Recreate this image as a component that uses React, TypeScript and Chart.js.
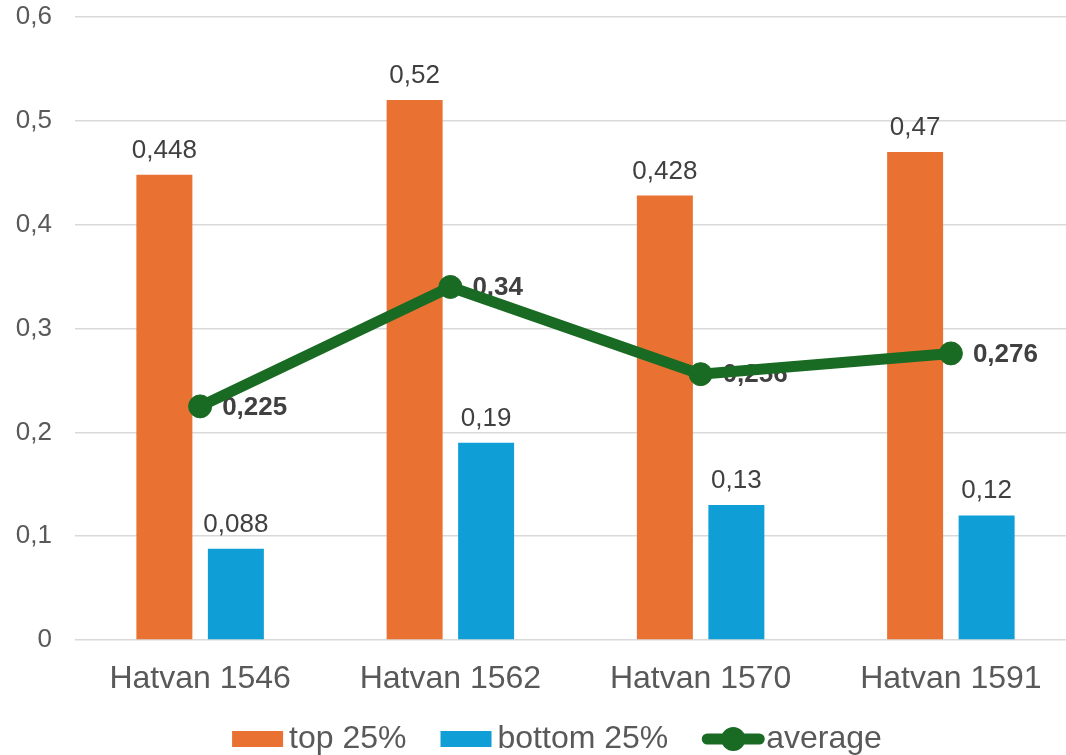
import React, { useEffect, useRef } from "react";
import { Chart, registerables } from "chart.js";

Chart.register(...registerables);

const categories = ["Hatvan 1546", "Hatvan 1562", "Hatvan 1570", "Hatvan 1591"];
const topValues = [0.448, 0.52, 0.428, 0.47];
const bottomValues = [0.088, 0.19, 0.13, 0.12];
const averageValues = [0.225, 0.34, 0.256, 0.276];
const yTickLabels = ["0", "0,1", "0,2", "0,3", "0,4", "0,5", "0,6"];
const seriesNames = ["top 25%", "bottom 25%", "average"];

const ORANGE = "#E97132";
const BLUE = "#0F9ED5";
const GREEN = "#196B24";
const FONT = "'Liberation Sans', Arial, sans-serif";

const fmt = (v: number) => String(v).replace(".", ",");

const labelPlugin = {
  id: "valueLabels",
  beforeDatasetsDraw(chart: any) {
    const ctx = chart.ctx;
    ctx.save();
    chart.data.datasets.forEach((ds: any, di: number) => {
      const meta = chart.getDatasetMeta(di);
      meta.data.forEach((el: any, i: number) => {
        const v = ds.data[i];
        if (ds.type === "line") {
          ctx.font = `bold 26px ${FONT}`;
          ctx.fillStyle = "#404040";
          ctx.textAlign = "left";
          ctx.textBaseline = "middle";
          ctx.fillText(fmt(v), el.x + 22, el.y + 1);
        } else {
          ctx.font = `26px ${FONT}`;
          ctx.fillStyle = "#404040";
          ctx.textAlign = "center";
          ctx.textBaseline = "alphabetic";
          ctx.fillText(fmt(v), el.x, el.y - 17);
        }
      });
    });
    ctx.restore();
  },
};

const legendPlugin = {
  id: "customLegend",
  afterDraw(chart: any) {
    const ctx = chart.ctx;
    ctx.save();
    ctx.font = `32px ${FONT}`;
    const colors = [ORANGE, BLUE, GREEN];
    const markerW = [51, 51, 62];
    const textGap = [6, 6, 2];
    const itemGap = 34;
    const widths = seriesNames.map((n, i) => markerW[i] + textGap[i] + ctx.measureText(n).width);
    const total = widths.reduce((a, b) => a + b, 0) + itemGap * (seriesNames.length - 1);
    let x = chart.width / 2 - total / 2 + 2;
    const cy = 739;
    seriesNames.forEach((name, i) => {
      if (i < 2) {
        ctx.fillStyle = colors[i];
        ctx.fillRect(x, cy - 8, markerW[i], 16);
      } else {
        ctx.strokeStyle = colors[i];
        ctx.lineWidth = 11;
        ctx.lineCap = "round";
        ctx.beginPath();
        ctx.moveTo(x + 5, cy);
        ctx.lineTo(x + markerW[i] - 5, cy);
        ctx.stroke();
        ctx.fillStyle = colors[i];
        ctx.beginPath();
        ctx.arc(x + markerW[i] / 2, cy, 12, 0, Math.PI * 2);
        ctx.fill();
      }
      ctx.fillStyle = "#595959";
      ctx.textAlign = "left";
      ctx.textBaseline = "middle";
      ctx.fillText(name, x + markerW[i] + textGap[i], cy);
      x += widths[i] + itemGap;
    });
    ctx.restore();
  },
};

export default function App() {
  const canvasRef = useRef<HTMLCanvasElement | null>(null);

  useEffect(() => {
    if (!canvasRef.current) return;
    const chart = new Chart(canvasRef.current, {
      type: "bar",
      data: {
        labels: categories,
        datasets: [
          {
            type: "line",
            label: seriesNames[2],
            data: averageValues,
            borderColor: GREEN,
            backgroundColor: GREEN,
            borderWidth: 11,
            pointRadius: 11.5,
            pointBorderWidth: 1,
            pointBackgroundColor: GREEN,
            pointBorderColor: GREEN,
            tension: 0,
            order: 0,
          } as any,
          {
            type: "bar",
            label: seriesNames[0],
            data: topValues,
            backgroundColor: ORANGE,
            borderWidth: 0,
            categoryPercentage: 0.5714,
            barPercentage: 0.783,
            order: 1,
          },
          {
            type: "bar",
            label: seriesNames[1],
            data: bottomValues,
            backgroundColor: BLUE,
            borderWidth: 0,
            categoryPercentage: 0.5714,
            barPercentage: 0.783,
            order: 1,
          },
        ],
      },
      options: {
        responsive: false,
        animation: false,
        layout: { padding: { left: 0, right: 34, top: 17, bottom: 65 } },
        plugins: {
          legend: { display: false },
          tooltip: { enabled: false },
        },
        scales: {
          x: {
            grid: { display: false, drawTicks: false },
            border: { display: false },
            ticks: {
              color: "#595959",
              font: { family: FONT, size: 32 },
              padding: 20,
              maxRotation: 0,
            },
            afterFit: (s: any) => {
              s.height = 50;
            },
          },
          y: {
            min: 0,
            max: 0.6,
            grid: { color: "#d9d9d9", lineWidth: 1.5, drawTicks: false },
            border: { display: false },
            ticks: {
              stepSize: 0.1,
              color: "#595959",
              font: { family: FONT, size: 26 },
              padding: 23,
              callback: (_v: any, i: number) => yTickLabels[i],
            },
            afterFit: (s: any) => {
              s.width = 75;
              s.paddingTop = 0;
              s.paddingBottom = 0;
            },
          },
        },
      },
      plugins: [labelPlugin, legendPlugin],
    });
    return () => chart.destroy();
  }, []);

  return (
    <div
      style={{
        position: "fixed",
        left: 0,
        top: 0,
        width: 1066,
        height: 755,
        overflow: "hidden",
        background: "#fff",
      }}
    >
      <canvas ref={canvasRef} width={1110} height={755} style={{ display: "block" }} />
    </div>
  );
}
